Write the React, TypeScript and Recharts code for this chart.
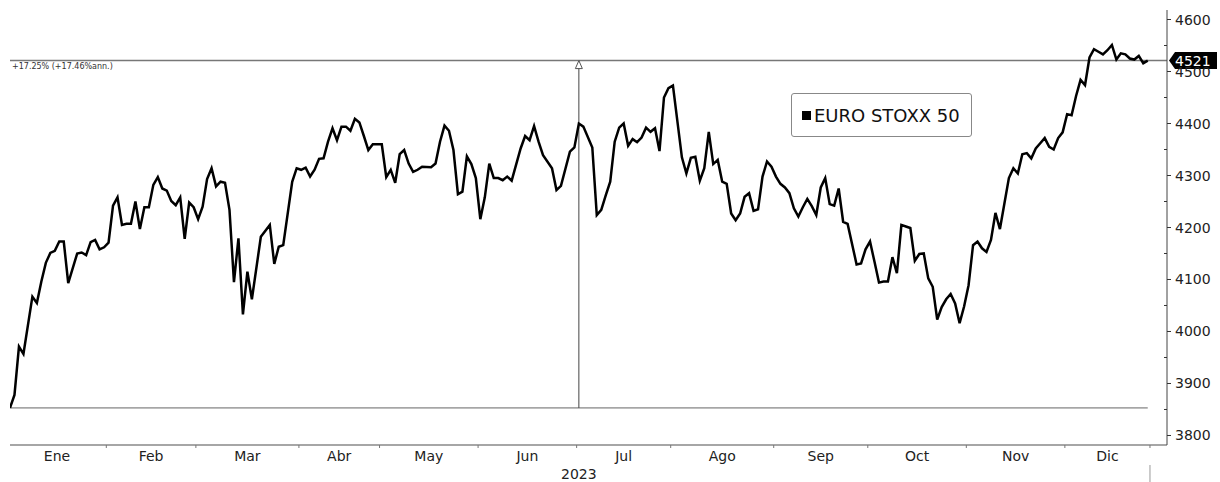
import React from 'react';
import { LineChart, Line, XAxis, YAxis, ReferenceLine, ReferenceDot, Legend } from 'recharts';

// Trading-day index in 2023 (0 = 2 Jan) and EURO STOXX 50 close
const tradingDay = [
  0, 1, 2, 3, 5, 6, 7, 8, 9, 10, 11, 12, 13, 15, 16, 17, 18, 19, 20, 21, 22,
  23, 24, 25, 26, 27, 28, 29, 30, 31, 32, 33, 34, 35, 36, 37, 38, 39, 40, 41,
  42, 43, 44, 45, 46, 47, 48, 49, 50, 51, 52, 53, 54, 56, 58, 59, 60, 61, 63, 64,
  65, 66, 67, 68, 69, 70, 71, 72, 73, 74, 75, 76, 77, 78, 79, 80, 81,
  83, 84, 85, 86, 87, 88, 89, 90, 91, 92, 94, 95, 96, 97, 98, 99, 100, 101, 102, 103, 104,
  105, 106, 107, 108, 109, 110, 111, 112, 114, 115, 116, 117, 118, 119, 121, 122, 123, 125, 126,
  127, 128, 130, 131, 132, 133, 134, 135, 136, 137, 138, 139, 140, 141, 142, 143, 144, 145, 146, 147,
  148, 150, 151, 152, 153, 154, 155, 156, 157, 158, 159, 160, 161, 162, 163, 164, 165, 166, 167, 168, 169, 170,
  171, 172, 173, 174, 175, 176, 177, 178, 179, 180, 181, 182, 183, 184, 185, 186, 187, 189, 190, 191,
  192, 193, 194, 195, 196, 197, 198, 199, 200, 201, 202, 203, 204, 205, 206, 207, 208, 209, 210, 211, 212, 213,
  214, 215, 216, 217, 218, 219, 220, 221, 222, 223, 224, 225, 226, 227, 228, 229, 230, 231, 232, 233, 234, 235,
  236, 237, 238, 239, 240, 241, 242, 243, 244, 245, 246, 247, 248, 249, 250, 251, 252, 253, 254,
];
const closeValues = [
  3853, 3878, 3971, 3957, 4067, 4055, 4096, 4132, 4151, 4155, 4173, 4173, 4093, 4150, 4152, 4147, 4172, 4176, 4158, 4162, 4171,
  4242, 4258, 4205, 4207, 4207, 4250, 4197, 4239, 4239, 4282, 4297, 4275, 4271, 4251, 4243, 4258, 4178, 4248, 4239,
  4216, 4240, 4293, 4314, 4279, 4288, 4286, 4234, 4095, 4179, 4033, 4115, 4062, 4182, 4205, 4130, 4163, 4166, 4288, 4314,
  4311, 4315, 4298, 4311, 4332, 4333, 4365, 4391, 4368, 4394, 4394, 4386, 4409, 4402, 4376, 4349, 4360,
  4360, 4297, 4311, 4286, 4341, 4349, 4323, 4307, 4311, 4317, 4316, 4323, 4365, 4396, 4386, 4349, 4264, 4269, 4337, 4322, 4295,
  4216, 4258, 4323, 4295, 4295, 4291, 4298, 4290, 4352, 4376, 4368, 4395, 4365, 4339, 4314, 4272, 4280, 4346, 4354,
  4400, 4394, 4354, 4224, 4234, 4262, 4288, 4365, 4392, 4400, 4357, 4370, 4364, 4373, 4392, 4384, 4391, 4347, 4450, 4468,
  4473, 4335, 4304, 4334, 4336, 4290, 4314, 4384, 4322, 4330, 4288, 4284, 4227, 4214, 4227, 4259, 4266, 4232, 4235, 4298, 4327, 4317,
  4298, 4284, 4277, 4266, 4237, 4221, 4239, 4255, 4241, 4224, 4277, 4295, 4245, 4242, 4275, 4211, 4207, 4129, 4131, 4158,
  4173, 4134, 4094, 4096, 4096, 4143, 4112, 4205, 4202, 4199, 4136, 4149, 4150, 4102, 4086, 4023, 4047, 4062, 4072, 4054, 4016, 4048,
  4089, 4166, 4173, 4160, 4153, 4176, 4228, 4197, 4246, 4295, 4314, 4304, 4341, 4343, 4333, 4352, 4362, 4372, 4355, 4350, 4372, 4383,
  4418, 4416, 4453, 4484, 4474, 4527, 4543, 4538, 4533, 4541, 4551, 4523, 4535, 4533, 4525, 4523, 4530, 4516, 4521,
];

const monthLabels = ['Ene', 'Feb', 'Mar', 'Abr', 'May', 'Jun', 'Jul', 'Ago', 'Sep', 'Oct', 'Nov', 'Dic'];
const monthFirstDay = [0, 22, 42, 65, 83, 105, 127, 148, 171, 192, 214, 236];
const lastDay = 254;
const yearLabel = '2023';
const yTicks = [3800, 3850, 3900, 3950, 4000, 4050, 4100, 4150, 4200, 4250, 4300, 4350, 4400, 4450, 4500, 4550, 4600];
const seriesName = 'EURO STOXX 50';
const startValue = 3853;
const lastValue = 4521;
const markerDay = 127;
const changeText = '+17.25% (+17.46%ann.)';

const data = tradingDay.map((d, i) => ({ day: d, close: closeValues[i] }));

const boundaries = [...monthFirstDay.slice(1).map((d) => d - 0.5), lastDay + 0.5];
const centers = monthFirstDay.map((d, i) => {
  const end = i < monthFirstDay.length - 1 ? monthFirstDay[i + 1] - 1 : lastDay;
  return (d + end) / 2;
});
const yearCenter = lastDay / 2;
const xTicks = [...centers, ...boundaries, yearCenter];

const FONT = '"DejaVu Sans", Verdana, sans-serif';

const XTick = (props: any) => {
  const { x, y, payload } = props;
  const v = payload.value;
  const bi = boundaries.indexOf(v);
  if (bi >= 0) {
    return (
      <g>
        <line x1={x} x2={x} y1={y} y2={y + 3} stroke="#777" strokeWidth={1} />
        {bi === boundaries.length - 1 && (
          <line x1={x} x2={x} y1={y + 20} y2={y + 37} stroke="#999" strokeWidth={1} />
        )}
      </g>
    );
  }
  const ci = centers.indexOf(v);
  if (ci >= 0) {
    return (
      <text x={x} y={y + 16} textAnchor="middle" fontSize={14} fill="#222" fontFamily={FONT}>
        {monthLabels[ci]}
      </text>
    );
  }
  return (
    <text x={x} y={y + 34} textAnchor="middle" fontSize={14} fill="#222" fontFamily={FONT}>
      {yearLabel}
    </text>
  );
};

const YTick = (props: any) => {
  const { x, y, payload } = props;
  const v = payload.value;
  if (v % 100 === 0) {
    return (
      <g>
        <line x1={x} x2={x + 4} y1={y} y2={y} stroke="#333" strokeWidth={1} />
        <text x={x + 8} y={y + 5} textAnchor="start" fontSize={14} fill="#222" fontFamily={FONT}>
          {v}
        </text>
      </g>
    );
  }
  return <line x1={x - 3} x2={x} y1={y} y2={y} stroke="#333" strokeWidth={1} />;
};

const LastValueLabel = (props: any) => {
  const vb = props.viewBox || {};
  const x0 = vb.x;
  const y0 = vb.y;
  const xr = vb.x + vb.width;
  return (
    <g>
      <text x={x0 + 2} y={y0 + 8} fontSize={8} fill="#333" fontFamily={FONT}>
        {changeText}
      </text>
      <polygon
        points={`${xr + 2},${y0} ${xr + 8},${y0 - 8.5} ${xr + 50},${y0 - 8.5} ${xr + 50},${y0 + 8.5} ${xr + 8},${y0 + 8.5}`}
        fill="#000"
      />
      <text x={xr + 8} y={y0 + 5} fontSize={14} fill="#fff" fontFamily={FONT}>
        {lastValue}
      </text>
    </g>
  );
};

const ArrowHead = (props: any) => {
  const { cx, cy } = props;
  return (
    <polygon
      points={`${cx},${cy} ${cx - 3.5},${cy + 8} ${cx + 3.5},${cy + 8}`}
      fill="#fff"
      stroke="#555"
      strokeWidth={1}
    />
  );
};

const LegendBox = () => (
  <div
    style={{
      width: 179,
      height: 42,
      border: '1px solid #888',
      borderRadius: 3,
      background: '#fff',
      boxSizing: 'content-box',
      display: 'flex',
      alignItems: 'center',
      fontFamily: FONT,
      fontSize: 18,
      color: '#111',
      whiteSpace: 'nowrap',
    }}
  >
    <span style={{ display: 'inline-block', width: 9, height: 9, background: '#000', marginLeft: 10, marginRight: 3 }} />
    <span>{seriesName}</span>
  </div>
);

export default function App() {
  return (
    <div style={{ position: 'absolute', left: 0, top: 0, width: 1220, height: 482, background: '#fff', fontFamily: FONT }}>
      <LineChart width={1220} height={482} data={data} margin={{ top: 10, right: 0, bottom: 0, left: 10 }}>
        <XAxis
          dataKey="day"
          type="number"
          domain={[0, 258.3]}
          ticks={xTicks}
          interval={0}
          tick={<XTick />}
          tickLine={false}
          tickSize={0}
          tickMargin={0}
          height={37}
          axisLine={{ stroke: '#888', strokeWidth: 1.5 }}
          allowDataOverflow
        />
        <YAxis
          orientation="right"
          type="number"
          domain={[3781.7, 4618.3]}
          ticks={yTicks}
          interval={0}
          tick={<YTick />}
          tickLine={false}
          tickSize={0}
          tickMargin={0}
          width={53}
          axisLine={{ stroke: '#444', strokeWidth: 1 }}
          allowDataOverflow
        />
        <ReferenceLine y={lastValue} stroke="#777" strokeWidth={1.5} label={<LastValueLabel />} />
        <ReferenceLine
          segment={[{ x: 0, y: startValue }, { x: lastDay, y: startValue }]}
          stroke="#666"
          strokeWidth={1}
        />
        <ReferenceLine
          segment={[{ x: markerDay, y: startValue }, { x: markerDay, y: lastValue }]}
          stroke="#444"
          strokeWidth={1}
        />
        <ReferenceDot x={markerDay} y={lastValue} shape={<ArrowHead />} />
        <Line
          type="linear"
          dataKey="close"
          name={seriesName}
          stroke="#000"
          strokeWidth={2.5}
          dot={false}
          isAnimationActive={false}
        />
        <Legend
          layout="horizontal"
          verticalAlign="middle"
          align="center"
          wrapperStyle={{ position: 'absolute', left: 791, top: 93, width: 'auto', height: 'auto' }}
          content={<LegendBox />}
        />
      </LineChart>
    </div>
  );
}
